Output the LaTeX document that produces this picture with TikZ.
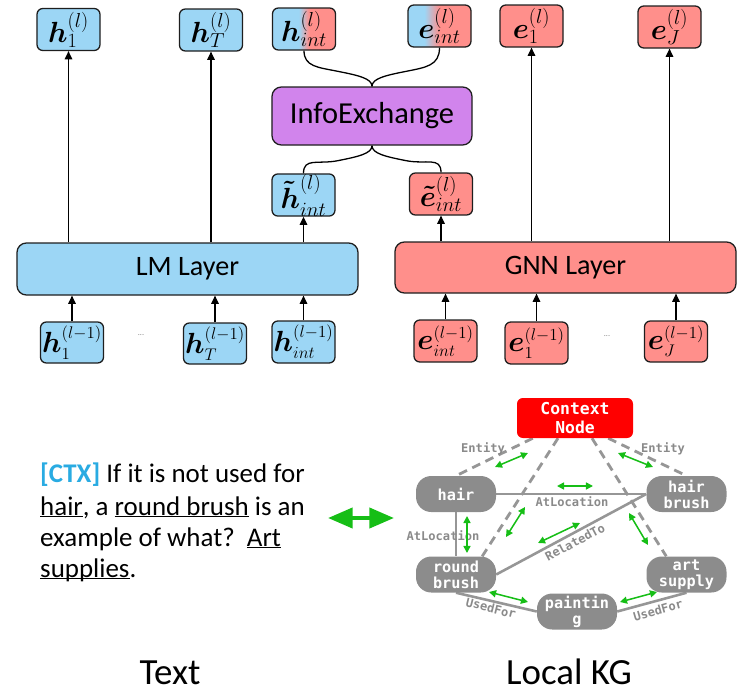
\documentclass[tikz,border=0pt]{standalone}
\usepackage{fontspec}
\setmainfont{Carlito}
\newfontfamily\kgfont{DejaVu Sans Mono}
\DeclareMathSizes{20}{24.88}{17.28}{12}
\DeclareMathSizes{19}{24.88}{14.4}{12}
\usetikzlibrary{arrows.meta,calc,backgrounds}
\definecolor{blueC}{RGB}{156,214,245}
\definecolor{redC}{RGB}{255,143,139}
\definecolor{purpC}{RGB}{209,132,236}
\definecolor{kgray}{RGB}{140,140,140}
\definecolor{egray}{RGB}{150,150,150}
\definecolor{lgray}{RGB}{138,138,138}
\definecolor{ctxred}{RGB}{255,0,0}
\definecolor{grn}{RGB}{22,190,22}
\definecolor{ctxblue}{RGB}{41,171,226}
\definecolor{bdr}{RGB}{30,30,30}
\pgfdeclarehorizontalshading{bluered}{100bp}{color(0bp)=(blueC); color(46bp)=(blueC); color(54bp)=(redC); color(100bp)=(redC)}
\pgfdeclarehorizontalshading{blueredB}{100bp}{color(0bp)=(blueC); color(38bp)=(blueC); color(50bp)=(redC); color(100bp)=(redC)}
\newcommand\myul[1]{\underline{\smash{#1}}}
\newcommand\bv[1]{\mbox{\boldmath$#1$}}
\tikzset{
 vec/.style={draw=bdr, line width=1.1pt, rounded corners=5pt, minimum width=1.89cm, minimum height=1.26cm, inner sep=0pt, font=\fontsize{20}{24}\selectfont},
 bvec/.style={vec, fill=blueC},
 rvec/.style={vec, fill=redC},
 prev/.style={font=\fontsize{19}{24}\selectfont},
 layer/.style={draw=bdr, line width=1.1pt, rounded corners=8pt, minimum width=10.23cm, minimum height=1.56cm, inner sep=0pt, font=\fontsize{24}{28}\selectfont},
 up/.style={-{Triangle[length=7pt,width=6.5pt]}, line width=1pt, draw=black},
 kgn/.style={fill=kgray, text=white, rounded corners=13pt, minimum width=2.4cm, minimum height=1.08cm, inner sep=0pt, align=center, font=\kgfont\bfseries\fontsize{13}{13.8}\selectfont},
 lab/.style={text=lgray, font=\kgfont\bfseries\fontsize{10.3}{12}\selectfont, inner sep=0pt},
 sol/.style={draw=egray, line width=2.2pt},
 dsh/.style={draw=egray, line width=2.4pt, dash pattern=on 7.5pt off 5pt},
 garr/.style={{Triangle[length=6pt,width=6pt]}-{Triangle[length=6pt,width=6pt]}, draw=grn, line width=1.3pt},
 para/.style={anchor=base west, inner sep=0pt, font=\fontsize{23}{27}\selectfont},
 brace/.style={draw=black, line width=1.1pt},
}
\begin{document}
\begin{tikzpicture}[x=0.03cm, y=-0.03cm]
\useasboundingbox (0,0) rectangle (745,695);
% top row
\node[bvec] (h1) at (68.5,29.5) {$\bv{h}_1^{(l)}$};
\node[bvec] (hT) at (211,30) {$\bv{h}_T^{(l)}$};
\node[vec, shade, shading=bluered] (hint) at (304,29) {$\bv{h}_{int}^{(l)}$};
\node[vec, shade, shading=blueredB] (eint) at (439.5,26) {$\bv{e}_{int}^{(l)}$};
\node[rvec] (e1) at (531.5,26) {$\bv{e}_1^{(l)}$};
\node[rvec] (eJ) at (669.5,27) {$\bv{e}_J^{(l)}$};
% info exchange
\node[draw=bdr, line width=1.1pt, fill=purpC, rounded corners=8pt, minimum width=6cm, minimum height=1.74cm, inner sep=0pt, font=\fontsize{26}{30}\selectfont] (info) at (372,116) {InfoExchange};
\node[bvec] (htint) at (303.5,195) {$\bv{\tilde{h}}_{int}^{(l)}$};
\node[rvec] (etint) at (441,194) {$\bv{\tilde{e}}_{int}^{(l)}$};
% layers
\node[layer, fill=blueC] (lm) at (187.5,269) {LM Layer};
\node[layer, fill=redC, minimum height=1.53cm] (gnn) at (565.5,267.5) {GNN Layer};
% bottom row
\node[bvec, prev, minimum height=1.23cm] (h1p) at (72,342.5) {$\bv{h}_1^{(l-1)}$};
\node[bvec, prev, minimum height=1.23cm] (hTp) at (215,343.5) {$\bv{h}_T^{(l-1)}$};
\node[bvec, prev] (hintp) at (303.5,342) {$\bv{h}_{int}^{(l-1)}$};
\node[rvec, prev] (eintp) at (445.5,341) {$\bv{e}_{int}^{(l-1)}$};
\node[rvec, prev] (e1p) at (536.5,343) {$\bv{e}_1^{(l-1)}$};
\node[rvec, prev, minimum height=1.23cm] (eJp) at (676,341.5) {$\bv{e}_J^{(l-1)}$};
\node[font=\fontsize{7}{8}\selectfont, text=gray] (d1) at (141,335) {...};
\node[font=\fontsize{7}{8}\selectfont, text=gray] (d2) at (607,336) {...};
% arrows up
\draw[up] (h1.south |- lm.north) -- (h1.south);
\draw[up] (hT.south |- lm.north) -- (hT.south);
\draw[up] (htint.south |- lm.north) -- (htint.south);
\draw[up] (etint.south |- gnn.north) -- (etint.south);
\draw[up] (e1.south |- gnn.north) -- (e1.south);
\draw[up] (eJ.south |- gnn.north) -- (eJ.south);
\draw[up] (h1p.north) -- (h1p.north |- lm.south);
\draw[up] (hTp.north) -- (hTp.north |- lm.south);
\draw[up] (hintp.north) -- (hintp.north |- lm.south);
\draw[up] (eintp.north) -- (eintp.north |- gnn.south);
\draw[up] (e1p.north) -- (e1p.north |- gnn.south);
\draw[up] (eJp.north) -- (eJp.north |- gnn.south);
% braces
\draw[brace] (hint.south) .. controls +(0,16) and +(-20,-4) .. ($(info.north)+(-34,-15)$) .. controls +(20,4) and +(0,-8) .. (info.north);
\draw[brace] (eint.south) .. controls +(0,18) and +(20,-4) .. ($(info.north)+(34,-15)$) .. controls +(-20,4) and +(0,-8) .. (info.north);
\draw[brace] (info.south) .. controls +(0,8) and +(20,-4) .. ($(info.south)+(-34,15)$) .. controls +(-20,4) and +(0,-16) .. (htint.north);
\draw[brace] (info.south) .. controls +(0,8) and +(-20,-4) .. ($(info.south)+(34,15)$) .. controls +(20,4) and +(0,-16) .. (etint.north);
% KG
\node[fill=ctxred, rounded corners=5pt, minimum width=3.48cm, minimum height=1.2cm, inner sep=0pt, text=white, align=center, font=\kgfont\bfseries\fontsize{14}{16.5}\selectfont] (ctx) at (575,418) {Context\\Node};
\node[kgn] (hair) at (456,494) {hair};
\node[kgn] (hb) at (686.5,494) {hair\\brush};
\node[kgn] (rb) at (456,574.5) {round\\brush};
\node[kgn] (art) at (686.5,574.5) {art\\supply};
\node[kgn] (pt) at (577,611.5) {paintin\\g};
\begin{scope}[on background layer]
\draw[sol] (hair) -- (hb);
\draw[sol] (hair) -- (rb);
\draw[sol] (rb.east) -- (hb.west);
\draw[sol] (rb.south) -- (pt.west);
\draw[sol] (pt.east) -- (art.south);
\draw[dsh] ($(ctx.south west)+(16,0)$) -- (hair.north);
\draw[dsh] ($(ctx.south east)+(-25,0)$) -- (hb.north);
\draw[dsh] ($(ctx.south)+(-17,0)$) -- ($(rb.north east)+(-14,0)$);
\draw[dsh] ($(ctx.south)+(17,0)$) -- ($(art.north west)+(20,0)$);
\end{scope}
\node[lab] (l1) at (483,449) {Entity};
\node[lab] (l2) at (663,449) {Entity};
\node[lab] (l3) at (572,502) {AtLocation};
\node[lab] (l4) at (443,536) {AtLocation};
\node[lab, rotate=28] (l5) at (575,542) {RelatedTo};
\node[lab, rotate=-14] (l6) at (491,608) {UsedFor};
\node[lab, rotate=16] (l7) at (658,610) {UsedFor};
% green arrows
\coordinate (g1a) at (495,467); \coordinate (g1b) at (528,453);
\coordinate (g2a) at (618,453); \coordinate (g2b) at (653,467);
\coordinate (g3a) at (557,486); \coordinate (g3b) at (593,486);
\coordinate (g4a) at (467,516); \coordinate (g4b) at (467,553);
\coordinate (g5a) at (525,507); \coordinate (g5b) at (506,537);
\coordinate (g6a) at (538,543); \coordinate (g6b) at (580,523);
\coordinate (g7a) at (629,513); \coordinate (g7b) at (648,545);
\coordinate (g8a) at (489,592); \coordinate (g8b) at (528,602);
\coordinate (g9a) at (620,602); \coordinate (g9b) at (657,592);
\draw[garr] (g1a) -- (g1b);
\draw[garr] (g2a) -- (g2b);
\draw[garr] (g3a) -- (g3b);
\draw[garr] (g4a) -- (g4b);
\draw[garr] (g5a) -- (g5b);
\draw[garr] (g6a) -- (g6b);
\draw[garr] (g7a) -- (g7b);
\draw[garr] (g8a) -- (g8b);
\draw[garr] (g9a) -- (g9b);
% text paragraph
\node[para] (p1) at (40,482) {\textcolor{ctxblue}{\bfseries[CTX]} If it is not used for};
\node[para] (p2) at (40,515) {\myul{hair}, a \myul{round brush} is an};
\node[para] (p3) at (40,546) {example of what?\ \ \myul{Art}};
\node[para] (p4) at (40,577) {\myul{supplies}.};
% big arrow
\coordinate (bl) at (328,518);
\coordinate (br) at (394,518);
\draw[draw=grn, line width=3.5pt, {Triangle[length=21pt,width=17pt]}-{Triangle[length=21pt,width=17pt]}] (bl) -- (br);
% titles
\node[anchor=base, inner sep=0pt, font=\fontsize{31.5}{36}\selectfont] (tt) at (170,684) {Text};
\node[anchor=base, inner sep=0pt, font=\fontsize{31.5}{36}\selectfont] (tk) at (569,684) {Local KG};
\end{tikzpicture}
\end{document}
